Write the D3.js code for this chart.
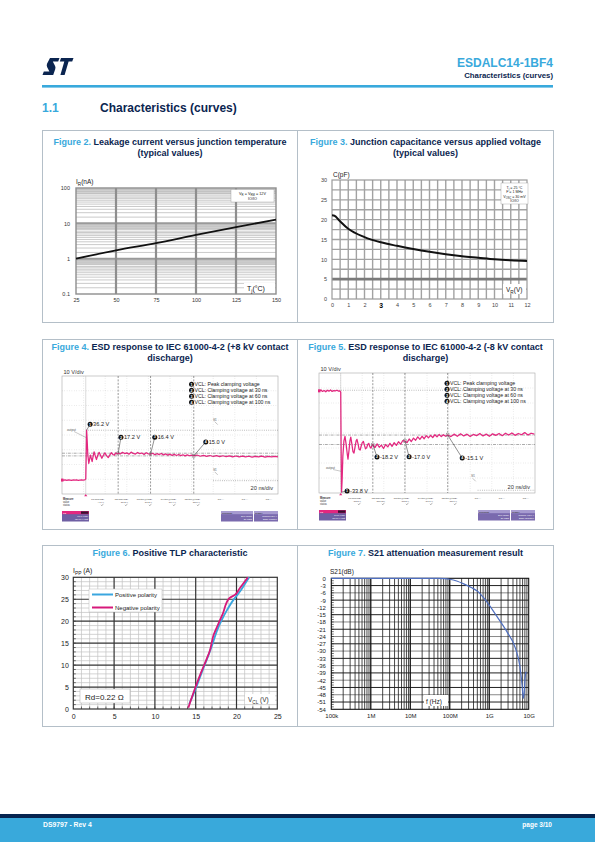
<!DOCTYPE html>
<html>
<head>
<meta charset="utf-8">
<script src="https://d3js.org/d3.v7.min.js"></script>
<style>
html,body{margin:0;padding:0;background:#ffffff;}
svg{display:block;}
text{font-family:"Liberation Sans",Arial,Helvetica,sans-serif;}
</style>
</head>
<body>
<svg id="page" width="595" height="842" viewBox="0 0 595 842"></svg>
<script>
// ================= DATA =================
// Figure 2 : leakage current vs junction temperature
const fig2TempTicks = [25, 50, 75, 100, 125, 150];
const fig2LeakTicks = [0.1, 1, 10, 100];
const fig2LeakLabels = ['0.1', '1', '10', '100'];
const fig2Temp = [25, 50, 75, 100, 125, 150];
const fig2Leak = [1.0, 1.72, 2.75, 4.7, 7.8, 12.8];

// Figure 3 : junction capacitance vs applied voltage
const fig3VoltTicks = [0, 1, 2, 3, 4, 5, 6, 7, 8, 9, 10, 11, 12];
const fig3CapTicks = [0, 5, 10, 15, 20, 25, 30];
const fig3Volt = [0, 0.15, 0.45, 1.0, 2.0, 3.0, 4.0, 5.0, 6.0, 7.0, 8.0, 9.0, 10.0, 11.0, 12.0];
const fig3Cap  = [21.1, 21.0, 19.8, 17.7, 15.6, 14.3, 13.4, 12.6, 11.9, 11.3, 10.8, 10.4, 10.0, 9.75, 9.6];

// Figure 4 : ESD +8 kV (time ns, voltage V)
const esdPosTime = [-22,-20.5,-19,-17.5,-16,-14.5,-13,-11.5,-10,-8.5,-7,-5.5,-4,-2.5,-1,
  0,0.4,0.8,1.3,1.9,2.8,3.5,4.3,5.1,5.9,6.8,7.7,8.8,9.9,11.1,12.4,13.6,14.9,16.3,17.7,19.2,20.8,22.3,23.8,25.2,26.5,27.8,29,30,
  32,34,36,38,40,42,44,46,48,50,52,54,56,58,60,62,64,66,68,70,72,74,76,78,80,82,84,86,88,90,92,94,96,98,100,
  103,106,109,112,115,118,121,124,127,130,133,136,139,142,145,148,151,154,157,160,163,166,169,172,175,178];
const esdPosVolt = [-4.8,-5.1,-4.9,-5.2,-4.8,-5.0,-5.3,-4.9,-5.1,-4.8,-5.2,-5.0,-4.9,-5.1,-4.9,
  -4,15,36.2,28,16,8.8,12,15.7,13,10.2,14.5,18.4,15,12,15.5,17.9,15.5,13,15.5,17.5,15.2,13.6,15.8,17.6,16.1,15.6,17.5,16.6,17.2,
  16.6,17.9,16.9,17.5,16.4,18.1,17.0,16.5,17.8,16.8,17.4,16.2,17.6,16.7,16.4,17.2,15.9,16.8,16.1,17.0,15.8,16.6,15.6,16.4,15.4,16.3,15.3,16.1,15.2,15.9,15.0,15.8,15.1,15.6,15.0,
  15.7,14.7,15.4,14.6,15.3,14.5,15.2,14.4,15.1,14.3,15.0,14.2,14.9,14.1,14.8,14.2,14.7,14.0,14.6,14.1,14.8,14.0,14.5,14.2,14.6,14.1];
const esdPosMarkTime = [0.8, 30, 60, 100];
const esdPosMarkVolt = [36.2, 17.2, 16.4, 15.0];
const esdPosMarkLabel = ['36.2 V', '17.2 V', '16.4 V', '15.0 V'];
const esdPosTableHead = ['P1:min(C2)', 'P2:max(C2)', 'P3:top@t(C2)', 'P4:top@t(C2)', 'P5:top@t(C2)', 'P6:---', 'P7:---', 'P8:---'];
const esdPosTableValue = ['-4.6 V', '36.2 V', '17.2 V', '16.4 V', '15.0 V', '', '', ''];

// Figure 5 : ESD -8 kV
const esdNegTime = [-20,-18.5,-17,-15.5,-14,-12.5,-11,-9.5,-8,-6.5,-5,-3.5,-2,-0.8,
  0,0.4,0.8,1.3,2.0,3.0,4.0,5.0,6.0,6.8,7.8,8.6,9.4,10.4,11.4,12.4,13.4,14.4,15.2,16.2,17.2,18.2,19.2,20.2,21.2,22.2,23.2,24.2,25.2,26.2,27.2,28.2,29.2,30,
  32,34,36,38,40,42,44,46,48,50,52,54,56,58,60,62,64,66,68,70,72,74,76,78,80,82,84,86,88,90,92,94,96,98,100,
  103,106,109,112,115,118,121,124,127,130,133,136,139,142,145,148,151,154,157,160,163,166,169,172,175,178,181];
const esdNegVolt = [-0.6,-0.3,-0.8,-0.5,-0.9,-0.4,-0.7,-0.3,-0.8,-0.5,-0.6,-0.4,-0.7,-0.6,
  -1,-20,-33.8,-30,-22,-17,-15.5,-18,-21,-23,-20,-17,-15.8,-18,-20.5,-21,-19,-17,-16.5,-18,-19.8,-20,-18.6,-17.5,-17.2,-18.5,-19.6,-19.3,-18.2,-17.8,-18.9,-19.4,-18.6,-18.2,
  -19.2,-18.0,-19.1,-18.4,-19.5,-18.2,-19.0,-17.8,-18.8,-17.6,-18.5,-17.3,-18.1,-16.9,-17.0,-17.6,-16.4,-17.2,-16.1,-16.8,-15.7,-16.5,-15.5,-16.3,-15.3,-16.0,-15.2,-15.9,-15.0,-15.7,-14.9,-15.6,-15.0,-15.5,-15.1,
  -15.6,-14.8,-15.5,-14.7,-15.4,-14.8,-15.6,-14.9,-15.3,-14.6,-15.4,-14.8,-15.5,-14.7,-15.2,-14.6,-15.3,-14.5,-15.1,-14.4,-15.2,-14.6,-15.0,-14.3,-15.1,-14.5,-14.8];
const esdNegMarkTime = [0.8, 30, 60, 100];
const esdNegMarkVolt = [-33.8, -18.2, -17.0, -15.1];
const esdNegMarkLabel = ['-33.8 V', '-18.2 V', '-17.0 V', '-15.1 V'];
const esdNegTableHead = ['P1:min(C2)', 'P2:max(C2)', 'P3:top@t(C2)', 'P4:top@t(C2)', 'P5:top@t(C2)', 'P6:---', 'P7:---', 'P8:---'];
const esdNegTableValue = ['-33.8 V', '760 mV', '-18.2 V', '-17.0 V', '-15.1 V', '', '', ''];
const esdLegend = ['VCL: Peak clamping  voltage', 'VCL: Clamping voltage at 30 ns', 'VCL: Clamping voltage at 60 ns', 'VCL: Clamping voltage at 100 ns'];

// Figure 6 : TLP
const tlpTicksV = [0, 5, 10, 15, 20, 25];
const tlpTicksI = [0, 5, 10, 15, 20, 25, 30];
const tlpPosV = [14.2, 15.1, 15.9, 16.5, 17.1, 17.6, 18.2, 18.8, 19.6, 20.4, 21.2, 21.55];
const tlpPosI = [1.1, 5.1, 9.1, 11.9, 15.0, 17.8, 20.3, 22.4, 24.8, 26.7, 29.0, 30.0];
const tlpNegV = [14.1, 14.9, 15.7, 16.3, 16.7, 17.2, 17.8, 18.3, 19.1, 19.8, 20.4, 21.4];
const tlpNegI = [0.3, 4.6, 8.5, 11.2, 13.1, 16.9, 19.5, 21.6, 25.2, 26.0, 27.5, 30.0];

// Figure 7 : S21
const s21TickFreq = [1e5, 1e6, 1e7, 1e8, 1e9, 1e10];
const s21TickLabel = ['100k', '1M', '10M', '100M', '1G', '10G'];
const s21TickDb = [0,-3,-6,-9,-12,-15,-18,-21,-24,-27,-30,-33,-36,-39,-42,-45,-48,-51,-54];
const s21Freq = [1e5, 1e6, 1e7, 5e7, 7.5e7, 1e8, 1.5e8, 2.4e8, 3.5e8, 5.2e8, 7e8, 9.3e8, 1.58e9, 2.8e9, 4.6e9, 5.9e9, 6.8e9, 7.3e9, 7.7e9, 8.1e9, 8.6e9];
const s21Db   = [0, 0, 0, -0.05, -0.15, -0.4, -1.1, -2.5, -3.8, -5.5, -7.8, -10.3, -15.8, -22, -28.8, -35.7, -44, -49.5, -47, -41, -38.5];

// ================= DRAW =================
const NAVY = '#0b2550', BLUE = '#39a9dc', BORDER = '#b4bfc8';
const svg = d3.select('#page');

function txt(g, x, y, s, size, o) {
  o = o || {};
  const t = g.append('text').attr('x', x).attr('y', y).attr('font-size', size).attr('fill', o.fill || '#222').text(s);
  if (o.anchor) t.attr('text-anchor', o.anchor);
  if (o.weight) t.attr('font-weight', o.weight);
  return t;
}
function subLabel(g, x, y, main, sub, rest, size, fill, anchor) {
  const t = g.append('text').attr('x', x).attr('y', y).attr('font-size', size).attr('fill', fill || '#222');
  if (anchor) t.attr('text-anchor', anchor);
  t.append('tspan').attr('font-size', size).text(main);
  t.append('tspan').attr('font-size', size * 0.72).attr('dy', size * 0.28).text(sub);
  t.append('tspan').attr('font-size', size).attr('dy', -size * 0.28).text(rest);
  return t;
}
function hline(g, x1, x2, y, stroke, w, dash) {
  const l = g.append('line').attr('x1', x1).attr('x2', x2).attr('y1', y).attr('y2', y).attr('stroke', stroke).attr('stroke-width', w);
  if (dash) l.attr('stroke-dasharray', dash);
  return l;
}
function vline(g, x, y1, y2, stroke, w, dash) {
  const l = g.append('line').attr('x1', x).attr('x2', x).attr('y1', y1).attr('y2', y2).attr('stroke', stroke).attr('stroke-width', w);
  if (dash) l.attr('stroke-dasharray', dash);
  return l;
}
function styleAxis(ax, size, fill) {
  ax.attr('font-size', size).attr('font-family', null);
  ax.select('.domain').remove();
  ax.selectAll('.tick line').remove();
  ax.selectAll('text').attr('fill', fill).attr('font-size', size);
}
function figTitle(cx, y, num, lines) {
  lines.forEach((s, i) => {
    const t = svg.append('text').attr('x', cx).attr('y', y + i * 11).attr('text-anchor', 'middle')
      .attr('font-size', 9).attr('font-weight', 'bold').attr('fill', NAVY);
    if (i === 0) {
      t.append('tspan').attr('font-size', 9).attr('fill', BLUE).text('Figure ' + num + '.');
      t.append('tspan').attr('font-size', 9).text(' ' + s);
    } else t.text(s);
  });
}

// ---------- header ----------
const logo = svg.append('g').attr('transform', 'translate(43,58)');
logo.append('path').attr('fill', NAVY)
  .attr('d', 'M7,0 H16.5 L15.2,3.6 H9.8 L12.1,8 Q12.8,9.5 12.2,11.3 L10.2,17 H-0.5 L0.8,13.4 H6.4 L4.2,9.2 Q3.4,7.6 4,5.8 Z');
logo.append('path').attr('fill', NAVY)
  .attr('d', 'M18,0 H30.5 L29.2,3.6 H25.6 L21.6,17 H17.4 L21.3,3.6 H16.8 Z');
txt(svg, 553, 67, 'ESDALC14-1BF4', 12, { anchor: 'end', weight: 'bold', fill: BLUE });
txt(svg, 553, 77.5, 'Characteristics (curves)', 7.8, { anchor: 'end', weight: 'bold', fill: NAVY });
svg.append('rect').attr('x', 42).attr('y', 85).attr('width', 511).attr('height', 2.6).attr('fill', BLUE);
txt(svg, 42, 112, '1.1', 12, { weight: 'bold', fill: BLUE });
txt(svg, 100, 112, 'Characteristics (curves)', 12, { weight: 'bold', fill: NAVY });

// ---------- footer ----------
svg.append('rect').attr('x', 0).attr('y', 814).attr('width', 595).attr('height', 4).attr('fill', '#06244f');
svg.append('rect').attr('x', 0).attr('y', 818).attr('width', 595).attr('height', 24).attr('fill', '#39a9db');
txt(svg, 43, 826.5, 'DS9797 - Rev 4', 6.8, { weight: 'bold', fill: '#ffffff' });
txt(svg, 552, 827, 'page 3/10', 6.5, { anchor: 'end', weight: 'bold', fill: '#ffffff' });

// ---------- boxes ----------
[[130, 322], [339, 529], [545, 726]].forEach(([t, b]) => {
  svg.append('rect').attr('x', 42.5).attr('y', t + 0.5).attr('width', 511).attr('height', b - t)
    .attr('fill', 'none').attr('stroke', BORDER).attr('stroke-width', 1);
  vline(svg, 297.5, t + 0.5, b + 0.5, BORDER, 1);
});

// ---------- Figure 2 ----------
figTitle(170, 145, 2, ['Leakage current versus junction temperature', '(typical values)']);
(function () {
  const g = svg.append('g');
  const x = d3.scaleLinear().domain([25, 150]).range([76, 276]);
  const y = d3.scaleLog().domain([0.1, 100]).range([294, 188]);
  g.selectAll('.band').data([0.1, 1, 10]).join('rect')
    .attr('x', x(25)).attr('width', x(150) - x(25))
    .attr('y', d => y(d * 10)).attr('height', d => y(d * 6.5) - y(d * 10))
    .attr('fill', '#d2d2d2');
  const minor = [];
  [0.1, 1, 10].forEach(d => [1.5, 2, 2.5, 3, 3.5, 4, 4.5, 5, 5.5, 6, 7, 8, 9].forEach(k => minor.push(d * k)));
  g.selectAll('.mn').data(minor).join('line')
    .attr('x1', x(25)).attr('x2', x(150)).attr('y1', d => y(d)).attr('y2', d => y(d))
    .attr('stroke', '#bdbdbd').attr('stroke-width', 0.8);
  g.selectAll('.mj').data([1, 10]).join('line')
    .attr('x1', x(25)).attr('x2', x(150)).attr('y1', d => y(d)).attr('y2', d => y(d))
    .attr('stroke', '#9a9a9a').attr('stroke-width', 2);
  g.selectAll('.vv').data([50, 75, 100, 125]).join('line')
    .attr('x1', d => x(d)).attr('x2', d => x(d)).attr('y1', y(100)).attr('y2', y(0.1))
    .attr('stroke', '#8e8e8e').attr('stroke-width', 2.2);
  g.append('rect').attr('x', x(25)).attr('y', y(100)).attr('width', x(150) - x(25)).attr('height', y(0.1) - y(100))
    .attr('fill', 'none').attr('stroke', '#8e8e8e').attr('stroke-width', 1.4);
  g.append('path').datum(d3.zip(fig2Temp, fig2Leak))
    .attr('d', d3.line().x(d => x(d[0])).y(d => y(d[1])).curve(d3.curveMonotoneX))
    .attr('fill', 'none').attr('stroke', '#111').attr('stroke-width', 1.8);
  const ax = g.append('g').attr('transform', 'translate(0,294)')
    .call(d3.axisBottom(x).tickValues(fig2TempTicks).tickSize(0).tickPadding(4.5));
  styleAxis(ax, 5.5, '#333');
  const ay = g.append('g').attr('transform', 'translate(76,0)')
    .call(d3.axisLeft(y).tickValues(fig2LeakTicks).tickFormat((d, i) => fig2LeakLabels[i]).tickSize(0).tickPadding(6));
  styleAxis(ay, 5.5, '#333');
  subLabel(g, 76, 184, 'I', 'R', '(nA)', 6.5, '#222');
  g.append('rect').attr('x', 244).attr('y', 283).attr('width', 31).attr('height', 10).attr('fill', '#fff');
  subLabel(g, 247, 291, 'T', 'j', '(°C)', 7, '#111');
  g.append('rect').attr('x', 231).attr('y', 189.5).attr('width', 43).attr('height', 12.5).attr('fill', '#fff')
    .attr('stroke', '#999').attr('stroke-width', 0.4);
  const lt = g.append('text').attr('x', 252.5).attr('y', 194.5).attr('font-size', 3.8).attr('text-anchor', 'middle').attr('fill', '#222');
  lt.append('tspan').attr('font-size', 3.8).text('V');
  lt.append('tspan').attr('font-size', 2.8).attr('dy', 1).text('R');
  lt.append('tspan').attr('font-size', 3.8).attr('dy', -1).text(' = V');
  lt.append('tspan').attr('font-size', 2.8).attr('dy', 1).text('RM');
  lt.append('tspan').attr('font-size', 3.8).attr('dy', -1).text(' = 12V');
  txt(g, 252.5, 199.5, 'IO/IO', 3.8, { anchor: 'middle' });
})();

// ---------- Figure 3 ----------
figTitle(425.5, 145, 3, ['Junction capacitance versus applied voltage', '(typical values)']);
(function () {
  const g = svg.append('g');
  const x = d3.scaleLinear().domain([0, 12]).range([332, 527]);
  const y = d3.scaleLinear().domain([0, 30]).range([299, 180]);
  const vx = d3.range(1, 24).map(i => i * 0.5);
  const hy = d3.range(1, 12).map(i => i * 2.5).filter(v => v !== 5);
  g.selectAll('.gv').data(vx).join('line').attr('x1', d => x(d)).attr('x2', d => x(d)).attr('y1', y(30)).attr('y2', y(0))
    .attr('stroke', '#a2a2a2').attr('stroke-width', 1.4);
  g.selectAll('.gh').data(hy).join('line').attr('x1', x(0)).attr('x2', x(12)).attr('y1', d => y(d)).attr('y2', d => y(d))
    .attr('stroke', '#a2a2a2').attr('stroke-width', 1.4);
  hline(g, x(0), x(12), y(5), '#7a7a7a', 2.6);
  g.append('rect').attr('x', x(0)).attr('y', y(30)).attr('width', x(12) - x(0)).attr('height', y(0) - y(30))
    .attr('fill', 'none').attr('stroke', '#9a9a9a').attr('stroke-width', 1.2);
  g.append('path').datum(d3.zip(fig3Volt, fig3Cap))
    .attr('d', d3.line().x(d => x(d[0])).y(d => y(d[1])).curve(d3.curveMonotoneX))
    .attr('fill', 'none').attr('stroke', '#111').attr('stroke-width', 2);
  const ax = g.append('g').attr('transform', 'translate(0,299)')
    .call(d3.axisBottom(x).tickValues(fig3VoltTicks).tickSize(0).tickPadding(4.5));
  styleAxis(ax, 5.5, '#444');
  ax.selectAll('text').filter(d => d === 3).attr('font-size', 6.8).attr('fill', '#000').attr('font-weight', 'bold');
  const ay = g.append('g').attr('transform', 'translate(332,0)')
    .call(d3.axisLeft(y).tickValues(fig3CapTicks).tickSize(0).tickPadding(5));
  styleAxis(ay, 5.5, '#444');
  txt(g, 333, 176.5, 'C(pF)', 6.5, { fill: '#222' });
  g.append('rect').attr('x', 503).attr('y', 284).attr('width', 23).attr('height', 10).attr('fill', '#fff');
  subLabel(g, 506, 292, 'V', 'R', '(V)', 6.5, '#222');
  g.append('rect').attr('x', 501).attr('y', 183).attr('width', 27).attr('height', 21).attr('fill', '#fff')
    .attr('stroke', '#999').attr('stroke-width', 0.4);
  subLabel(g, 514.5, 188.5, 'T', 'j', ' = 25 °C', 3.6, '#222', 'middle');
  txt(g, 514.5, 193, 'F = 1 MHz', 3.6, { anchor: 'middle' });
  subLabel(g, 514.5, 197.5, 'V', 'OSC', ' = 30 mV', 3.6, '#222', 'middle');
  txt(g, 514.5, 202, 'IO/IO', 3.6, { anchor: 'middle' });
})();

// ---------- scope figures ----------
function drawScope(cfg) {
  const g = svg.append('g');
  const x = d3.scaleLinear().domain(cfg.tDomain).range([cfg.x0, cfg.x1]);
  const y = d3.scaleLinear().domain(cfg.vDomain).range([cfg.y1, cfg.y0]);
  const PINK = '#e3277f';
  const gx = d3.range(1, 10).map(i => cfg.x0 + i * (cfg.x1 - cfg.x0) / 10);
  const gy = d3.range(1, 8).map(i => cfg.y0 + i * (cfg.y1 - cfg.y0) / 8);
  g.selectAll('.sx').data(gx).join('line').attr('x1', d => d).attr('x2', d => d).attr('y1', cfg.y0).attr('y2', cfg.y1)
    .attr('stroke', '#bdbdbd').attr('stroke-width', 0.5).attr('stroke-dasharray', '0.6,1.8');
  g.selectAll('.sy').data(gy).join('line').attr('x1', cfg.x0).attr('x2', cfg.x1).attr('y1', d => d).attr('y2', d => d)
    .attr('stroke', '#bdbdbd').attr('stroke-width', 0.5).attr('stroke-dasharray', '0.6,1.8');
  g.append('rect').attr('x', cfg.x0).attr('y', cfg.y0).attr('width', cfg.x1 - cfg.x0).attr('height', cfg.y1 - cfg.y0)
    .attr('fill', 'none').attr('stroke', '#a8a8a8').attr('stroke-width', 0.6);
  vline(g, x(0), cfg.y0, cfg.y1, '#c4c4c4', 0.6);
  [30, 60, 100].forEach(t => vline(g, x(t), cfg.y0, cfg.y1, '#555', 0.6, '2,1.4'));
  cfg.refs.forEach(r => hline(g, x(r.t0), x(r.t1), y(r.v), '#666', 0.55, r.dash));
  cfg.m1.forEach(m => {
    txt(g, x(m.t), y(m.v) - 5, 'M1', 2.6, { fill: '#666' });
    g.append('line').attr('x1', x(m.t) + 1.5).attr('y1', y(m.v) - 4).attr('x2', x(m.t) + 4.5).attr('y2', y(m.v) - 1)
      .attr('stroke', '#666').attr('stroke-width', 0.4);
  });
  g.append('path').datum(d3.zip(cfg.time, cfg.volt))
    .attr('d', d3.line().x(d => x(d[0])).y(d => y(d[1])))
    .attr('fill', 'none').attr('stroke', PINK).attr('stroke-width', 1.25).attr('stroke-linejoin', 'round');
  g.append('path').attr('d', `M${x(0) - 1.6},${cfg.y1 + 2.2} L${x(0) + 1.6},${cfg.y1 + 2.2} L${x(0)},${cfg.y1} Z`).attr('fill', PINK);
  g.append('rect').attr('x', cfg.x0 - 1).attr('y', y(cfg.ground) - 1.5).attr('width', 2.5).attr('height', 3).attr('fill', PINK);
  txt(g, cfg.x0 + 1.5, cfg.y0 - 2, '10 V/div', 5.6, { fill: '#333' });
  txt(g, cfg.x1 - 5, cfg.y1 - 4, '20 ns/div', 5.6, { anchor: 'end', fill: '#333' });
  txt(g, cfg.outX, cfg.outY, 'output', 3.2, { fill: '#555' });
  g.append('line').attr('x1', cfg.outX + 7).attr('y1', cfg.outY + 0.5).attr('x2', x(cfg.outT)).attr('y2', y(cfg.outV))
    .attr('stroke', '#777').attr('stroke-width', 0.4);
  const circ = (cx, cy, n) => {
    g.append('circle').attr('cx', cx).attr('cy', cy).attr('r', 2.5).attr('fill', '#111');
    txt(g, cx, cy + 1.3, String(n), 3.6, { anchor: 'middle', weight: 'bold', fill: '#fff' });
  };
  esdLegend.forEach((s, i) => {
    const ly = cfg.legY + i * 6;
    circ(cfg.legX, ly - 1.8, i + 1);
    txt(g, cfg.legX + 3, ly, s, 5.2, { fill: '#222' });
  });
  cfg.markT.forEach((t, i) => {
    const px = x(t), py = y(cfg.markV[i]);
    const cx = px + cfg.offs[i][0], cy = py + cfg.offs[i][1];
    g.append('line').attr('x1', px).attr('y1', py).attr('x2', cx).attr('y2', cy).attr('stroke', '#333').attr('stroke-width', 0.55);
    if (i > 0) g.append('rect').attr('x', px - 1.3).attr('y', py - 1.3).attr('width', 2.6).attr('height', 2.6)
      .attr('fill', 'none').attr('stroke', '#777').attr('stroke-width', 0.4);
    circ(cx, cy, i + 1);
    txt(g, cx + 3, cy + 2, cfg.markL[i], 5.6, { fill: '#222' });
  });
  const ty = cfg.y1 + 6;
  ['Measure', 'value', 'status'].forEach((s, i) => txt(g, cfg.x0 + 1, ty + i * 3, s, 2.6, { weight: i === 0 ? 'bold' : null, fill: '#333' }));
  cfg.head.forEach((h, i) => {
    const cx = cfg.x0 + 42 + i * 24;
    txt(g, cx, ty, h, 2.5, { anchor: 'end', fill: '#333' });
    if (cfg.vals[i]) {
      txt(g, cx, ty + 3, cfg.vals[i], 2.5, { anchor: 'end', fill: '#333' });
      g.append('path').attr('d', `M${cx - 3},${ty + 4.8} L${cx - 2.2},${ty + 5.8} L${cx - 0.6},${ty + 3.8}`)
        .attr('fill', 'none').attr('stroke', '#333').attr('stroke-width', 0.35);
    }
  });
  const by = cfg.y1 + 17;
  g.append('rect').attr('x', cfg.x0).attr('y', by).attr('width', 27).attr('height', 10.5).attr('fill', '#6f5fa3');
  g.append('rect').attr('x', cfg.x0).attr('y', by).attr('width', 27).attr('height', 3.2).attr('fill', PINK);
  g.append('rect').attr('x', cfg.x0 + 19).attr('y', by + 0.4).attr('width', 7.5).attr('height', 2.4).attr('fill', '#3a1030');
  txt(g, cfg.x0 + 1, by + 2.6, 'C2', 2.4, { fill: '#fff' });
  txt(g, cfg.x0 + 26, by + 6, cfg.chan1, 2.4, { anchor: 'end', fill: '#fff' });
  txt(g, cfg.x0 + 26, by + 9, cfg.chan2, 2.4, { anchor: 'end', fill: '#fff' });
  const rx = cfg.x1 - 57;
  [[rx, 32, 'Timebase', cfg.tb1, cfg.tb2], [rx + 33, 24, 'Trigger', cfg.tr1, cfg.tr2]].forEach(([bx, bw, h, a, b]) => {
    g.append('rect').attr('x', bx).attr('y', by).attr('width', bw).attr('height', 10.5).attr('fill', '#7a6aae');
    g.append('rect').attr('x', bx).attr('y', by).attr('width', bw).attr('height', 3.2).attr('fill', '#a79bd0');
    txt(g, bx + 1, by + 2.6, h, 2.4, { fill: '#222' });
    txt(g, bx + bw - 1, by + 6, a, 2.3, { anchor: 'end', fill: '#fff' });
    txt(g, bx + bw - 1, by + 9, b, 2.3, { anchor: 'end', fill: '#fff' });
  });
}

figTitle(170, 350, 4, ['ESD response to IEC 61000-4-2 (+8 kV contact', 'discharge)']);
drawScope({
  x0: 62, x1: 278, y0: 376, y1: 494,
  tDomain: [-22, 178], vDomain: [-16.5, 81],
  time: esdPosTime, volt: esdPosVolt, ground: -5,
  refs: [{ t0: 2, t1: 178, v: 36.2, dash: '0.8,1.4' }, { t0: -22, t1: 178, v: 17.2, dash: '3,1,0.8,1' },
         { t0: -22, t1: 178, v: 15.0, dash: '3,1,0.8,1' }, { t0: 118, t1: 178, v: -5.5, dash: '0.8,1.4' }],
  m1: [{ t: 118, v: 40 }, { t: 118, v: -1.5 }],
  outX: 67, outY: 431, outT: 0.6, outV: 30,
  legX: 191.5, legY: 386,
  markT: esdPosMarkTime, markV: esdPosMarkVolt, markL: esdPosMarkLabel,
  offs: [[3.5, -6], [2.8, -16], [4.2, -17], [12, -14]],
  head: esdPosTableHead, vals: esdPosTableValue,
  chan1: '10.0 V/div', chan2: '-30.00 V ofst',
  tb1: '20.0 ns/div', tb2: '20 GS/s', tr1: 'Normal  13.0 V', tr2: 'Edge  Positive'
});

figTitle(425.5, 350, 5, ['ESD response to IEC 61000-4-2 (-8 kV contact', 'discharge)']);
drawScope({
  x0: 319, x1: 535, y0: 373, y1: 493,
  tDomain: [-20.3, 181.6], vDomain: [-34.1, 5.25],
  time: esdNegTime, volt: esdNegVolt, ground: -0.6,
  refs: [{ t0: -20.3, t1: 140, v: -0.4, dash: '0.8,1.4' }, { t0: -20.3, t1: 181.6, v: -15.1, dash: '3,1,0.8,1' },
         { t0: -20.3, t1: 181.6, v: -18.2, dash: '3,1,0.8,1' }, { t0: 128, t1: 181.6, v: -33.2, dash: '0.8,1.4' }],
  m1: [{ t: 122, v: -30.6 }],
  outX: 326, outY: 469, outT: 0.55, outV: -27,
  legX: 447, legY: 385,
  markT: esdNegMarkTime, markV: esdNegMarkVolt, markL: esdNegMarkLabel,
  offs: [[5.5, -1.2], [4.2, 12.5], [4.2, 16], [14.5, 23]],
  head: esdNegTableHead, vals: esdNegTableValue,
  chan1: '5.00 V/div', chan2: '15.00 V ofst',
  tb1: '20.0 ns/div', tb2: '20 GS/s', tr1: 'Normal  -15.0 V', tr2: 'Edge  Negative'
});

// ---------- Figure 6 ----------
figTitle(170, 556, 6, ['Positive TLP characteristic']);
(function () {
  const g = svg.append('g');
  const x = d3.scaleLinear().domain([0, 25]).range([73.3, 277.3]);
  const y = d3.scaleLinear().domain([0, 30]).range([709, 577.3]);
  const mv = d3.range(1, 25).filter(v => v % 5 !== 0);
  const mh = d3.range(1, 30).filter(v => v % 5 !== 0);
  g.selectAll('.mv').data(mv).join('line').attr('x1', d => x(d)).attr('x2', d => x(d)).attr('y1', y(30)).attr('y2', y(0))
    .attr('stroke', '#c2c2c2').attr('stroke-width', 0.7);
  g.selectAll('.mh').data(mh).join('line').attr('x1', x(0)).attr('x2', x(25)).attr('y1', d => y(d)).attr('y2', d => y(d))
    .attr('stroke', '#c2c2c2').attr('stroke-width', 0.7);
  g.selectAll('.jv').data([5, 10, 15, 20]).join('line').attr('x1', d => x(d)).attr('x2', d => x(d)).attr('y1', y(30)).attr('y2', y(0))
    .attr('stroke', '#333').attr('stroke-width', 1.2);
  g.selectAll('.jh').data([5, 10, 15, 20, 25]).join('line').attr('x1', x(0)).attr('x2', x(25)).attr('y1', d => y(d)).attr('y2', d => y(d))
    .attr('stroke', '#333').attr('stroke-width', 1.2);
  g.append('rect').attr('x', x(0)).attr('y', y(30)).attr('width', x(25) - x(0)).attr('height', y(0) - y(30))
    .attr('fill', 'none').attr('stroke', '#333').attr('stroke-width', 1.2);
  g.selectAll('.tl').data(d3.range(1, 30)).join('line').attr('x1', x(0)).attr('x2', x(0) + 2.5).attr('y1', d => y(d)).attr('y2', d => y(d))
    .attr('stroke', '#333').attr('stroke-width', 0.7);
  g.selectAll('.tb').data(d3.range(1, 25)).join('line').attr('x1', d => x(d)).attr('x2', d => x(d)).attr('y1', y(0)).attr('y2', y(0) - 2.5)
    .attr('stroke', '#333').attr('stroke-width', 0.7);
  g.append('rect').attr('x', 89).attr('y', 589).attr('width', 73).attr('height', 23).attr('fill', '#fff')
    .attr('stroke', '#bbb').attr('stroke-width', 0.5);
  hline(g, 92, 113, 594.5, '#3aa6df', 2);
  txt(g, 115, 596.5, 'Positive polarity', 6, { fill: '#222' });
  hline(g, 92, 113, 607.5, '#d6197a', 2);
  txt(g, 115, 609.5, 'Negative polarity', 6, { fill: '#222' });
  const line = d3.line().x(d => x(d[0])).y(d => y(d[1])).curve(d3.curveMonotoneY);
  g.append('path').datum(d3.zip(tlpPosV, tlpPosI)).attr('d', line).attr('fill', 'none').attr('stroke', '#3aa6df').attr('stroke-width', 1.8);
  g.append('path').datum(d3.zip(tlpNegV, tlpNegI)).attr('d', line).attr('fill', 'none').attr('stroke', '#d6197a').attr('stroke-width', 1.8);
  g.append('rect').attr('x', 80).attr('y', 689).attr('width', 50).attr('height', 14).attr('fill', '#fff')
    .attr('stroke', '#aaa').attr('stroke-width', 0.5);
  txt(g, 85, 699.5, 'Rd=0.22 \u03A9', 8, { fill: '#222' });
  g.append('rect').attr('x', 245).attr('y', 694).attr('width', 30).attr('height', 10).attr('fill', '#fff');
  subLabel(g, 248, 702, 'V', 'CL', ' (V)', 6.5, '#333');
  subLabel(g, 73, 573, 'I', 'PP', ' (A)', 6.8, '#222');
  const ax = g.append('g').attr('transform', 'translate(0,709)')
    .call(d3.axisBottom(x).tickValues(tlpTicksV).tickSize(0).tickPadding(5.5));
  styleAxis(ax, 7, '#222');
  const ay = g.append('g').attr('transform', 'translate(73.3,0)')
    .call(d3.axisLeft(y).tickValues(tlpTicksI).tickSize(0).tickPadding(4.5));
  styleAxis(ay, 7, '#222');
})();

// ---------- Figure 7 ----------
figTitle(425.5, 556, 7, ['S21 attenuation measurement result']);
(function () {
  const g = svg.append('g');
  const x = d3.scaleLog().domain([1e5, 1e10]).range([331.3, 528.7]);
  const y = d3.scaleLinear().domain([-54, 0]).range([709.3, 578.3]);
  const vlines = [];
  [1e5, 1e6, 1e7, 1e8, 1e9].forEach(d => d3.range(2, 10).forEach(k => vlines.push(d * k)));
  g.selectAll('.gh').data(s21TickDb.slice(1, -1)).join('line').attr('x1', x(1e5)).attr('x2', x(1e10))
    .attr('y1', d => y(d)).attr('y2', d => y(d))
    .attr('stroke', (d, i) => i % 2 === 0 ? '#222' : '#8a8a8a').attr('stroke-width', 1);
  g.selectAll('.gv').data(vlines).join('line').attr('x1', d => x(d)).attr('x2', d => x(d)).attr('y1', y(0)).attr('y2', y(-54))
    .attr('stroke', '#1a1a1a').attr('stroke-width', 0.8);
  g.selectAll('.gd').data(s21TickFreq.slice(1, -1)).join('line').attr('x1', d => x(d)).attr('x2', d => x(d)).attr('y1', y(0)).attr('y2', y(-54))
    .attr('stroke', '#111').attr('stroke-width', 1.3);
  g.append('rect').attr('x', x(1e5)).attr('y', y(0)).attr('width', x(1e10) - x(1e5)).attr('height', y(-54) - y(0))
    .attr('fill', 'none').attr('stroke', '#111').attr('stroke-width', 1.1);
  g.selectAll('.tk').data(d3.range(-53, 0)).join('line').attr('x1', x(1e5)).attr('x2', x(1e5) + 2.5)
    .attr('y1', d => y(d)).attr('y2', d => y(d)).attr('stroke', '#111').attr('stroke-width', 0.6);
  g.append('path').datum(d3.zip(s21Freq, s21Db))
    .attr('d', d3.line().x(d => x(d[0])).y(d => y(d[1])).curve(d3.curveMonotoneX))
    .attr('fill', 'none').attr('stroke', '#4f6fc0').attr('stroke-width', 1.2);
  g.append('rect').attr('x', 424).attr('y', 695).attr('width', 24).attr('height', 11).attr('fill', '#fff');
  txt(g, 426, 703.5, 'f (Hz)', 6.5, { fill: '#222' });
  txt(g, 330, 573.5, 'S21(dB)', 6.5, { fill: '#222' });
  const ax = g.append('g').attr('transform', 'translate(0,709.3)')
    .call(d3.axisBottom(x).tickValues(s21TickFreq).tickFormat((d, i) => s21TickLabel[i]).tickSize(0).tickPadding(4.5));
  styleAxis(ax, 6, '#222');
  const ay = g.append('g').attr('transform', 'translate(331.3,0)')
    .call(d3.axisLeft(y).tickValues(s21TickDb).tickFormat(d => String(d)).tickSize(0).tickPadding(5.5));
  styleAxis(ay, 6, '#222');
})();
</script>
</body>
</html>
